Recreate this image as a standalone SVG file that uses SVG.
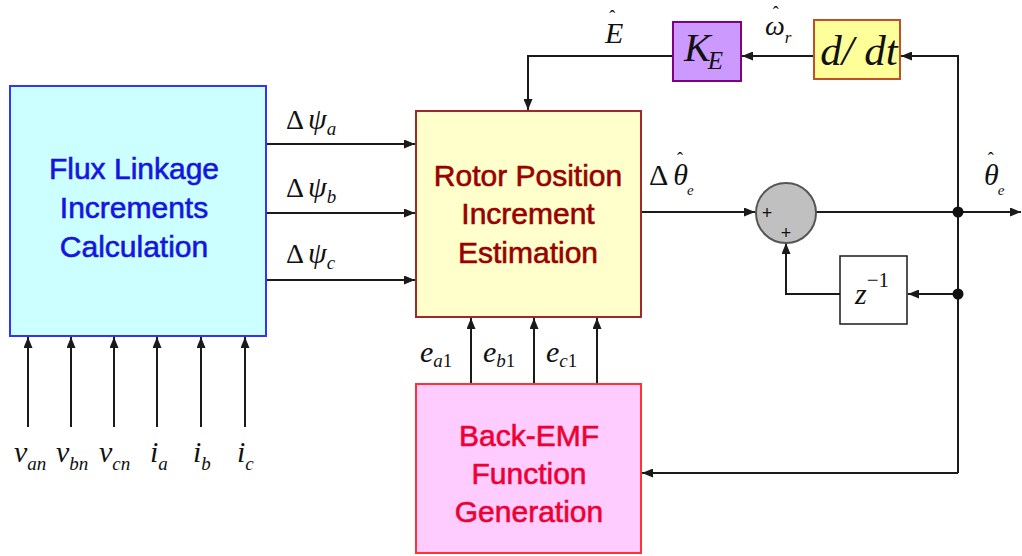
<svg xmlns="http://www.w3.org/2000/svg" width="1022" height="556" viewBox="0 0 1022 556">
<defs>
<marker id="arr" markerUnits="userSpaceOnUse" markerWidth="11" markerHeight="9" refX="11" refY="4.5" orient="auto">
<path d="M0,0 L11,4.5 L0,9 z" fill="#1a1a1a"/>
</marker>
</defs>
<style>
.blk{font-family:"Liberation Sans",Arial,sans-serif;font-size:30px;text-anchor:middle;stroke-width:0.6}
.m{font-family:"Liberation Serif","Times New Roman",serif;font-style:italic;font-size:30px;fill:#111}
.up{font-style:normal}
.sub{font-size:19px}
.hat{font-style:normal;font-size:18px}
.ca{fill:none;stroke:#1a1a1a;stroke-width:2;marker-end:url(#arr)}
</style>
<rect width="1022" height="556" fill="#ffffff"/>

<g id="connectors">
<path class="ca" d="M958,473 V56 H901"/>
<path class="ca" d="M958,473 H642"/>
<path class="ca" d="M814,56 H742"/>
<path class="ca" d="M673,56 H528 V110"/>
<path class="ca" d="M641,212 H755"/>
<path class="ca" d="M816,212 H1021"/>
<path class="ca" d="M958,294 H908"/>
<path class="ca" d="M840,294 H786 V243"/>
<path class="ca" d="M266,144 H415"/>
<path class="ca" d="M266,213 H415"/>
<path class="ca" d="M266,280 H415"/>
<path class="ca" d="M471,383 V318"/>
<path class="ca" d="M534,383 V318"/>
<path class="ca" d="M597,383 V318"/>
<path class="ca" d="M28,427 V337"/>
<path class="ca" d="M71,427 V337"/>
<path class="ca" d="M114,427 V337"/>
<path class="ca" d="M157,427 V337"/>
<path class="ca" d="M201,427 V337"/>
<path class="ca" d="M245,427 V337"/>
<circle cx="958" cy="212" r="5.5" fill="#111"/>
<circle cx="958" cy="294" r="5.5" fill="#111"/>
</g>

<g id="flux">
<rect x="10" y="86" width="256" height="250" fill="#ccffff" stroke="#3333ff" stroke-width="2"/>
<text class="blk" fill="#1515e0" stroke="#1515e0"><tspan x="134" y="179">Flux Linkage</tspan><tspan x="134" y="218">Increments</tspan><tspan x="134" y="257">Calculation</tspan></text>
</g>

<g id="rotor">
<rect x="416" y="111" width="225" height="206" fill="#ffffcc" stroke="#a02828" stroke-width="2"/>
<text class="blk" fill="#990000" stroke="#990000"><tspan x="528" y="186">Rotor Position</tspan><tspan x="528" y="224">Increment</tspan><tspan x="528" y="263">Estimation</tspan></text>
</g>

<g id="backemf">
<rect x="416" y="384" width="225" height="169" fill="#ffccff" stroke="#ff3333" stroke-width="2"/>
<text class="blk" fill="#ee0033" stroke="#ee0033"><tspan x="529" y="446">Back-EMF</tspan><tspan x="529" y="484">Function</tspan><tspan x="529" y="522">Generation</tspan></text>
</g>

<g id="ke">
<rect x="673" y="22" width="68" height="59" fill="#cc99ff" stroke="#800080" stroke-width="2"/>
<text class="m" x="684" y="61" style="font-size:40px">K<tspan style="font-size:25px" dx="-3" dy="8">E</tspan></text>
</g>

<g id="ddt">
<rect x="814" y="20" width="86" height="59" fill="#ffff99" stroke="#c0502a" stroke-width="2"/>
<text class="m" x="859" y="65" style="font-size:43px" text-anchor="middle">d/ dt</text>
</g>

<g id="sum">
<circle cx="786" cy="213" r="30" fill="#c0c0c0" stroke="#555555" stroke-width="2"/>
<text x="767" y="219" font-family="Liberation Sans,Arial,sans-serif" font-size="18" text-anchor="middle" fill="#111">+</text>
<text x="786" y="239" font-family="Liberation Sans,Arial,sans-serif" font-size="18" text-anchor="middle" fill="#111">+</text>
</g>

<g id="zdelay">
<rect x="840" y="256" width="67" height="68" fill="#ffffff" stroke="#1a1a1a" stroke-width="1.5"/>
<text class="m" x="855" y="304">z<tspan class="up" style="font-size:21px" dy="-17">−1</tspan></text>
</g>

<g id="labels">
<text class="m" x="286" y="129"><tspan class="up" style="font-size:28px">Δ</tspan><tspan dx="4">ψ</tspan><tspan class="sub" dy="6">a</tspan></text>
<text class="m" x="286" y="197"><tspan class="up" style="font-size:28px">Δ</tspan><tspan dx="4">ψ</tspan><tspan class="sub" dy="6">b</tspan></text>
<text class="m" x="286" y="263"><tspan class="up" style="font-size:28px">Δ</tspan><tspan dx="4">ψ</tspan><tspan class="sub" dy="6">c</tspan></text>

<text class="m" x="420" y="362">e<tspan class="sub" dy="5">a</tspan><tspan class="sub up">1</tspan></text>
<text class="m" x="483" y="362">e<tspan class="sub" dy="5">b</tspan><tspan class="sub up">1</tspan></text>
<text class="m" x="546" y="362">e<tspan class="sub" dy="5">c</tspan><tspan class="sub up">1</tspan></text>

<text class="m" x="605" y="43">E<tspan class="hat" dx="-14" dy="-20">ˆ</tspan></text>

<text class="m" x="765" y="35" style="font-size:28px">ω<tspan class="hat" dx="-12" dy="-16">ˆ</tspan><tspan style="font-size:17px" dx="6" dy="24">r</tspan></text>

<text class="m" x="649" y="185"><tspan class="up">Δ</tspan><tspan dx="5">θ</tspan><tspan class="hat" dx="-11" dy="-20">ˆ</tspan><tspan style="font-size:15px" dx="4" dy="30">e</tspan></text>

<text class="m" x="984" y="185">θ<tspan class="hat" dx="-11" dy="-20">ˆ</tspan><tspan style="font-size:15px" dx="4" dy="30">e</tspan></text>

<text class="m" x="14" y="462">v<tspan class="sub" dy="8">an</tspan></text>
<text class="m" x="56" y="462">v<tspan class="sub" dy="8">bn</tspan></text>
<text class="m" x="99" y="462">v<tspan class="sub" dy="8">cn</tspan></text>
<text class="m" x="150" y="462">i<tspan class="sub" dy="8">a</tspan></text>
<text class="m" x="193" y="462">i<tspan class="sub" dy="8">b</tspan></text>
<text class="m" x="237" y="462">i<tspan class="sub" dy="8">c</tspan></text>
</g>
</svg>
